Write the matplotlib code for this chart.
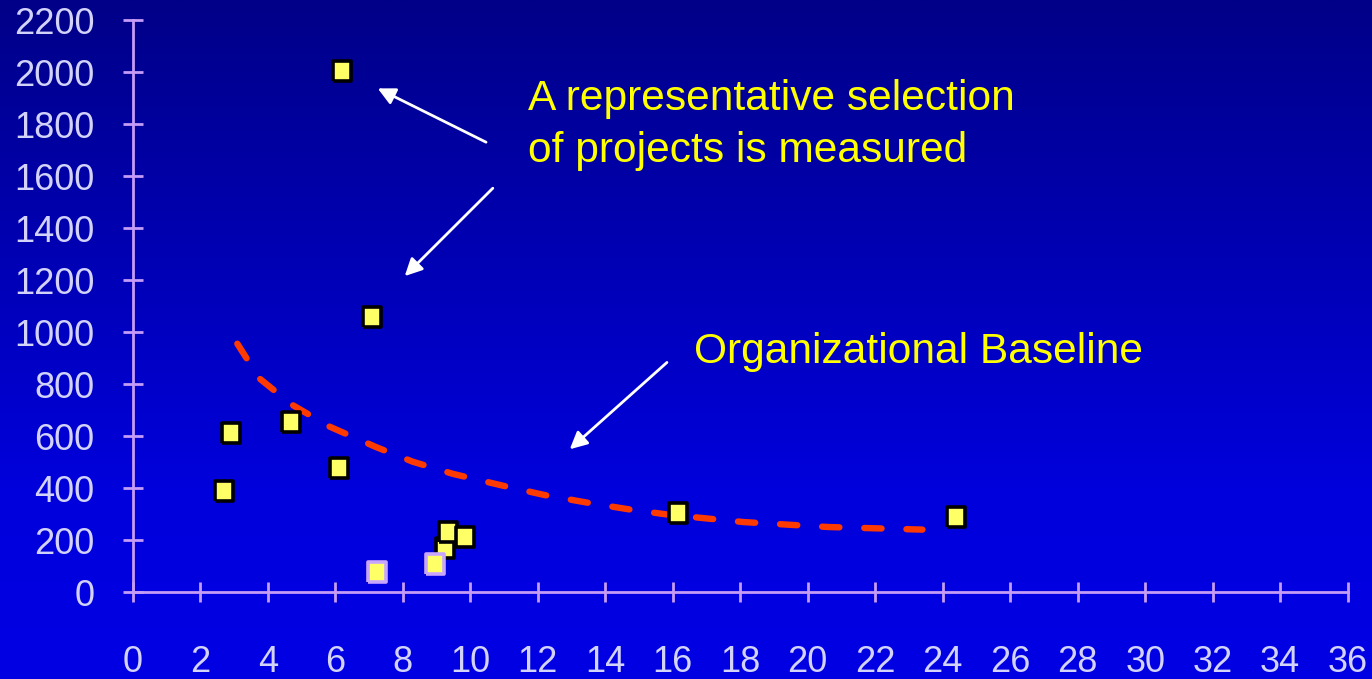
import numpy as np
import matplotlib
matplotlib.use("Agg")
import matplotlib.pyplot as plt
from matplotlib.colors import LinearSegmentedColormap

# Measured projects (x, y) and which ones are drawn with a light outline
project_x = [6.2, 7.1, 2.9, 2.7, 4.7, 6.1, 7.25, 8.95, 9.25, 9.35, 9.85, 16.15, 24.4]
project_y = [2005, 1058, 610, 390, 655, 477, 78, 108, 168, 230, 213, 303, 287]
light_outline = [False, False, False, False, False, False, True, True,
                 False, False, False, False, False]

# Organizational baseline curve
baseline_x = [3.1, 3.75, 4.7, 5.8, 7.2, 8.3, 9.5, 11.0, 12.2, 13.5, 14.7,
              15.9, 18.1, 20.6, 23.1, 23.4]
baseline_y = [955, 822, 722, 638, 558, 501, 454, 408, 373, 343, 318,
              297, 269, 250, 241, 240]

x_ticks = list(range(0, 37, 2))
y_ticks = list(range(0, 2201, 200))

plt.rcParams['font.family'] = ['Liberation Sans', 'DejaVu Sans']

W, H, DPI = 1372, 679, 100
fig = plt.figure(figsize=(W / DPI, H / DPI), dpi=DPI)

# Vertical blue gradient background
bg = fig.add_axes([0, 0, 1, 1], zorder=0)
rows = np.linspace(0, 1, 400).reshape(-1, 1)
grad_cmap = LinearSegmentedColormap.from_list(
    "bg", [(0.0, "#000088"), (0.72, "#0000DC"), (1.0, "#0000E4")])
bg.imshow(rows, aspect="auto", cmap=grad_cmap, extent=[0, 1, 0, 1],
          origin="upper", interpolation="bicubic")
bg.set_axis_off()

ax = fig.add_axes([132.7 / W, (H - 592) / H, 1215 / W, 572 / H], zorder=1)
ax.patch.set_alpha(0)

axis_col = "#C59CF6"
label_col = "#D2D2FA"

for side in ("top", "right"):
    ax.spines[side].set_visible(False)
for side in ("left", "bottom"):
    ax.spines[side].set_color(axis_col)
    ax.spines[side].set_linewidth(2)

ax.set_xlim(0, 36)
ax.set_ylim(0, 2200)
ax.set_xticks(x_ticks)
ax.set_yticks(y_ticks)
ax.tick_params(axis="both", direction="inout", length=15, width=2,
               color=axis_col, labelcolor=label_col, labelsize=26)
ax.tick_params(axis="x", pad=31)
ax.tick_params(axis="y", pad=20)

# Baseline (dashed red)
ax.plot(baseline_x, baseline_y, color="#FF3A00", lw=4.6,
        dashes=(2.7, 3.9), dash_capstyle="round", solid_capstyle="round",
        zorder=2)

# Project markers: slightly tall squares
rect = [(-0.41, -0.5), (0.41, -0.5), (0.41, 0.5), (-0.41, 0.5), (-0.41, -0.5)]
px = np.array(project_x)
py = np.array(project_y)
lo = np.array(light_outline)
ax.plot(px[~lo], py[~lo], linestyle="none", marker=rect, markersize=15,
        markerfacecolor="#FFFF66", markeredgecolor="black",
        markeredgewidth=2.6, zorder=3, clip_on=False)
ax.plot(px[lo], py[lo], linestyle="none", marker=rect, markersize=15,
        markerfacecolor="#FFFF66", markeredgecolor="#C8A6FF",
        markeredgewidth=2.6, zorder=3, clip_on=False)

# Annotations
txt_kw = dict(color="#FFFF00", fontsize=30.6, ha="left")
ax.text(11.7, 1854, "A representative selection", va="baseline", **txt_kw)
ax.text(11.7, 1655, "of projects is measured", va="baseline", **txt_kw)
ax.text(16.62, 882, "Organizational Baseline", va="baseline", **txt_kw)

arrow_kw = dict(arrowstyle="-|>", color="white", lw=2, mutation_scale=26,
                shrinkA=0, shrinkB=0)
ax.annotate("", xy=(7.26, 1937), xytext=(10.47, 1730), arrowprops=arrow_kw)
ax.annotate("", xy=(8.06, 1215), xytext=(10.67, 1553), arrowprops=arrow_kw)
ax.annotate("", xy=(12.95, 549), xytext=(15.83, 883), arrowprops=arrow_kw)

fig.savefig("out.png", dpi=DPI)
